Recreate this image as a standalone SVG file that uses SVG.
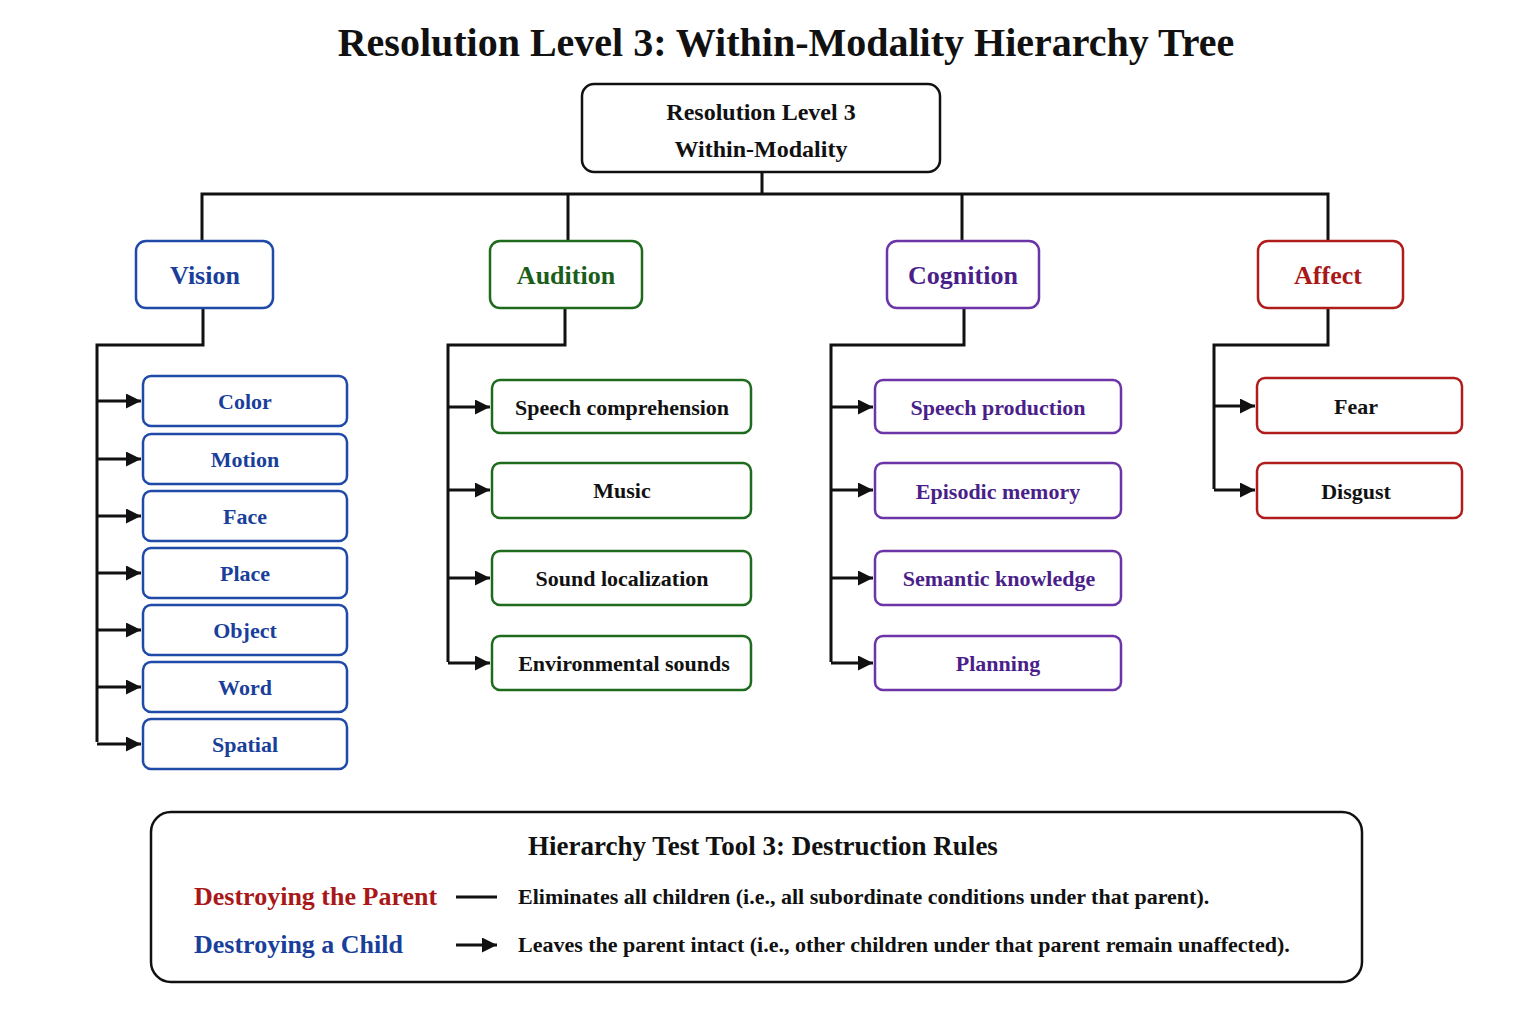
<svg xmlns="http://www.w3.org/2000/svg" width="1536" height="1024" viewBox="0 0 1536 1024">
<style>
text{font-family:"Liberation Serif","Times New Roman",serif;font-weight:bold;text-anchor:middle;dominant-baseline:central}
.ln{fill:none;stroke:#111;stroke-width:3}
.b{fill:#fff;stroke-width:2.5}
.v{stroke:#1f4aa8}.vt{fill:#1a3f9a}
.a{stroke:#1e6b1e}.at{fill:#1a5e1a}
.c{stroke:#6b35a8}.ct{fill:#4b1f8a}
.f{stroke:#b01c1c}.ft{fill:#a81818}
.k{stroke:#111}.kt{fill:#111}
</style>
<defs><marker id="ar" viewBox="0 0 10 10" refX="10" refY="5" markerWidth="5" markerHeight="5" orient="auto" markerUnits="strokeWidth"><path d="M0,0L10,5L0,10z" fill="#111"/></marker></defs>
<rect width="1536" height="1024" fill="#fff"/>
<text x="786" y="42" font-size="40" class="kt">Resolution Level 3: Within-Modality Hierarchy Tree</text>
<g id="connectors">
<path class="ln" d="M762,172V194M202,241V194H1328V241M568,194V241M962,194V241"/>
<path class="ln" d="M203,308V345H97V742"/>
<path class="ln" d="M565,308V345H448V662"/>
<path class="ln" d="M964,308V345H831V662"/>
<path class="ln" d="M1328,308V345H1214V489"/>
<g class="ln" marker-end="url(#ar)">
<path d="M97,401H141"/><path d="M97,459H141"/><path d="M97,516H141"/><path d="M97,573H141"/><path d="M97,630H141"/><path d="M97,687H141"/><path d="M97,744H141"/>
<path d="M448,407H490"/><path d="M448,490H490"/><path d="M448,578H490"/><path d="M448,663H490"/>
<path d="M831,407H873"/><path d="M831,490H873"/><path d="M831,578H873"/><path d="M831,663H873"/>
<path d="M1214,406H1255"/><path d="M1214,490H1255"/>
</g>
</g>
<g id="root"><rect class="b k" x="582" y="84" width="358" height="88" rx="12" stroke-width="3"/><text x="761" y="112" font-size="24" class="kt">Resolution Level 3</text><text x="761" y="149" font-size="24" class="kt">Within-Modality</text></g>
<g id="vision"><rect class="b v" x="136" y="241" width="137" height="67" rx="10"/><text x="205" y="275" font-size="26" class="vt">Vision</text></g>
<g id="audition"><rect class="b a" x="490" y="241" width="152" height="67" rx="10"/><text x="566" y="275" font-size="26" class="at">Audition</text></g>
<g id="cognition"><rect class="b c" x="887" y="241" width="152" height="67" rx="10"/><text x="963" y="275" font-size="26" class="ct">Cognition</text></g>
<g id="affect"><rect class="b f" x="1258" y="241" width="145" height="67" rx="10"/><text x="1328" y="275" font-size="26" class="ft">Affect</text></g>
<g id="vision-children" font-size="22">
<g id="color"><rect class="b v" x="143" y="376" width="204" height="50" rx="8"/><text x="245" y="401" font-size="22" class="vt">Color</text></g>
<g id="motion"><rect class="b v" x="143" y="434" width="204" height="50" rx="8"/><text x="245" y="459" font-size="22" class="vt">Motion</text></g>
<g id="face"><rect class="b v" x="143" y="491" width="204" height="50" rx="8"/><text x="245" y="516" font-size="22" class="vt">Face</text></g>
<g id="place"><rect class="b v" x="143" y="548" width="204" height="50" rx="8"/><text x="245" y="573" font-size="22" class="vt">Place</text></g>
<g id="object"><rect class="b v" x="143" y="605" width="204" height="50" rx="8"/><text x="245" y="630" font-size="22" class="vt">Object</text></g>
<g id="word"><rect class="b v" x="143" y="662" width="204" height="50" rx="8"/><text x="245" y="687" font-size="22" class="vt">Word</text></g>
<g id="spatial"><rect class="b v" x="143" y="719" width="204" height="50" rx="8"/><text x="245" y="744" font-size="22" class="vt">Spatial</text></g>
</g>
<g id="audition-children">
<g id="speech-comprehension"><rect class="b a" x="492" y="380" width="259" height="53" rx="8"/><text x="622" y="407" font-size="22" class="kt">Speech comprehension</text></g>
<g id="music"><rect class="b a" x="492" y="463" width="259" height="55" rx="8"/><text x="622" y="490" font-size="22" class="kt">Music</text></g>
<g id="sound-localization"><rect class="b a" x="492" y="551" width="259" height="54" rx="8"/><text x="622" y="578" font-size="22" class="kt">Sound localization</text></g>
<g id="environmental-sounds"><rect class="b a" x="492" y="636" width="259" height="54" rx="8"/><text x="624" y="663" font-size="22" class="kt">Environmental sounds</text></g>
</g>
<g id="cognition-children">
<g id="speech-production"><rect class="b c" x="875" y="380" width="246" height="53" rx="8"/><text x="998" y="407" font-size="22" class="ct">Speech production</text></g>
<g id="episodic-memory"><rect class="b c" x="875" y="463" width="246" height="55" rx="8"/><text x="998" y="491" font-size="22" class="ct">Episodic memory</text></g>
<g id="semantic-knowledge"><rect class="b c" x="875" y="551" width="246" height="54" rx="8"/><text x="999" y="578" font-size="22" class="ct">Semantic knowledge</text></g>
<g id="planning"><rect class="b c" x="875" y="636" width="246" height="54" rx="8"/><text x="998" y="663" font-size="22" class="ct">Planning</text></g>
</g>
<g id="affect-children">
<g id="fear"><rect class="b f" x="1257" y="378" width="205" height="55" rx="8"/><text x="1356" y="406" font-size="22" class="kt">Fear</text></g>
<g id="disgust"><rect class="b f" x="1257" y="463" width="205" height="55" rx="8"/><text x="1356" y="491" font-size="22" class="kt">Disgust</text></g>
</g>
<g id="legend">
<rect class="b k" x="151" y="812" width="1211" height="170" rx="20" stroke-width="3"/>
<text x="763" y="846" font-size="27" class="kt">Hierarchy Test Tool 3: Destruction Rules</text>
<text x="194" y="896" font-size="26" class="ft" text-anchor="start" style="text-anchor:start">Destroying the Parent</text>
<text x="194" y="944" font-size="26" class="vt" style="text-anchor:start">Destroying a Child</text>
<path class="ln" d="M456,897H497M456,945H497" stroke-width="2.5" marker-end="url(#ar)"/>
<text x="518" y="896" font-size="22" class="kt" style="text-anchor:start">Eliminates all children (i.e., all subordinate conditions under that parent).</text>
<text x="518" y="944" font-size="22" class="kt" style="text-anchor:start">Leaves the parent intact (i.e., other children under that parent remain unaffected).</text>
</g>
</svg>
